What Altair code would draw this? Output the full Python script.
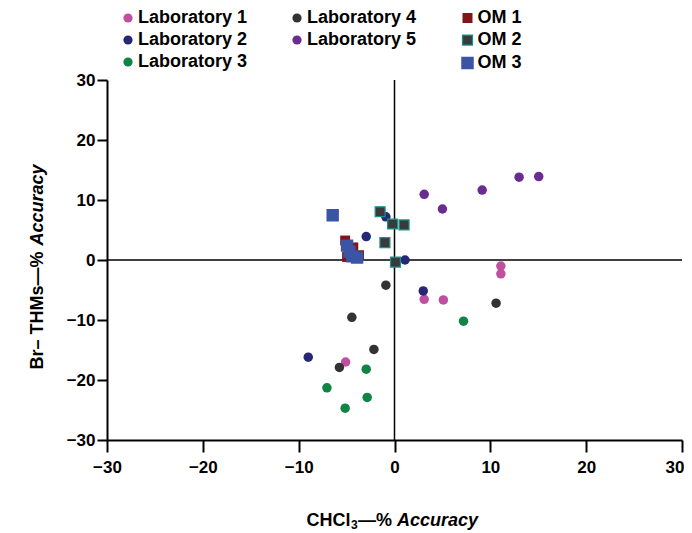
import altair as alt
import pandas as pd

# ---- data ----
lab1_x = [3.1, 5.1, 11.1, 11.1, -5.1]
lab1_y = [-6.55, -6.65, -2.3, -1.0, -17.0]
lab2_x = [3.0, -9.0, -2.95, -0.9, 1.1]
lab2_y = [-5.15, -16.2, 3.9, 7.2, 0.0]
lab3_x = [7.2, -2.95, -7.05, -2.85, -5.15]
lab3_y = [-10.2, -18.2, -21.3, -22.9, -24.7]
lab4_x = [-0.9, -4.45, -2.15, -5.75, 10.6]
lab4_y = [-4.2, -9.55, -14.9, -17.9, -7.2]
lab5_x = [3.1, 5.0, 9.15, 13.0, 15.05]
lab5_y = [10.95, 8.5, 11.65, 13.8, 13.9]
om1_x = [-5.15, -4.3, -3.7, -4.95]
om1_y = [3.25, 2.1, 0.8, 0.5]
om2_x = [-1.5, -0.2, 1.0, -1.0, 0.1]
om2_y = [8.05, 6.0, 5.85, 2.9, -0.35]
om3_x = [-6.45, -4.95, -4.7, -4.4, -3.9]
om3_y = [7.45, 2.4, 1.4, 0.6, 0.4]

ticks = [-30, -20, -10, 0, 10, 20, 30]

labsA = ["Laboratory 1", "Laboratory 2", "Laboratory 3"]
labsA_colors = ["#C04FA0", "#262775", "#0F8445"]
labsB = ["Laboratory 4", "Laboratory 5"]
labsB_colors = ["#333333", "#6B2C91"]
oms = ["OM 1", "OM 2", "OM 3"]
oms_fill = ["#7F1518", "#3A3A3A", "#3B55A5"]
oms_stroke = ["#7F1518", "#1A918C", "#3B55A5"]
oms_sw = [0, 2.5, 0]


def frame(names, xs, ys):
    rows = []
    for n, xv, yv in zip(names, xs, ys):
        for a, b in zip(xv, yv):
            rows.append({"series": n, "x": a, "y": b})
    return pd.DataFrame(rows)


dfA = frame(labsA, [lab1_x, lab2_x, lab3_x], [lab1_y, lab2_y, lab3_y])
dfB = frame(labsB, [lab4_x, lab5_x], [lab4_y, lab5_y])
dfO = frame(oms, [om1_x, om2_x, om3_x], [om1_y, om2_y, om3_y])

FONT = "Liberation Sans"
xscale = alt.Scale(domain=[-30, 30], nice=False, zero=False)
yscale = alt.Scale(domain=[-30, 30], nice=False, zero=False)
common_axis = dict(title=None, values=ticks, grid=False, tickWidth=2, domainWidth=2,
                   tickColor="black", domainColor="black", labelFont=FONT,
                   labelFontSize=17, labelFontWeight="bold", labelColor="black",
                   labelFlush=False)
# keep the last x label inside the page
xaxis = alt.Axis(tickSize=12, labelPadding=7,
                 labelAlign=alt.condition("datum.value == 30", alt.value("right"), alt.value("center")),
                 labelOffset=alt.condition("datum.value == 30", alt.value(2), alt.value(0)),
                 **common_axis)
yaxis = alt.Axis(tickSize=10, labelPadding=2, **common_axis)

X = alt.X("x:Q", scale=xscale, axis=xaxis)
Y = alt.Y("y:Q", scale=yscale, axis=yaxis)


def legend(lx, size):
    return alt.Legend(title=None, orient="none", legendX=lx, legendY=-71,
                      symbolSize=size, labelOffset=1, rowPadding=4, padding=0,
                      labelFont=FONT, labelFontSize=18, labelFontWeight="bold",
                      labelColor="black", labelLimit=0)


zero = pd.DataFrame({"x": [0], "y": [0]})
vrule = alt.Chart(zero).mark_rule(color="black", strokeWidth=1.5).encode(x=X)
hrule = alt.Chart(zero).mark_rule(color="black", strokeWidth=1.5).encode(y=Y)

ptsA = alt.Chart(dfA).mark_circle(size=90, opacity=1).encode(
    x=X, y=Y,
    color=alt.Color("series:N", scale=alt.Scale(domain=labsA, range=labsA_colors),
                    legend=legend(12, 85)))
ptsB = alt.Chart(dfB).mark_circle(size=90, opacity=1).encode(
    x=X, y=Y,
    color=alt.Color("series:N", scale=alt.Scale(domain=labsB, range=labsB_colors),
                    legend=legend(181, 85)))
legO = legend(351.5, 100)
ptsO = alt.Chart(dfO).mark_square(size=98, opacity=1, filled=True).encode(
    x=X, y=Y,
    color=alt.Color("series:N", scale=alt.Scale(domain=oms, range=oms_fill), legend=legO),
    stroke=alt.Stroke("series:N", scale=alt.Scale(domain=oms, range=oms_stroke), legend=legO),
    strokeWidth=alt.StrokeWidth("series:N", scale=alt.Scale(domain=oms, range=oms_sw), legend=legO),
)

# axis titles (mixed upright / italic parts)
def txt(s, xv, yv, align, size=18, style="normal", angle=0):
    kw = dict(font=FONT, fontSize=size, fontWeight="bold", fontStyle=style,
              align=align, baseline="middle", color="black")
    if angle:
        kw["angle"] = angle
    return alt.Chart(pd.DataFrame({"t": [s]})).mark_text(**kw).encode(
        text="t:N", x=alt.value(xv), y=alt.value(yv))

ytitle1 = txt("Br– THMs—%", -69, 171.5, "right", angle=270)
ytitle2 = txt("Accuracy", -69, 165.5, "left", style="italic", angle=270)
xtitle1 = txt("CHCl", 243.6, 441, "right")
xtitle2 = txt("3", 244, 445, "left", size=12)
xtitle3 = txt("—%", 251, 441, "left")
xtitle4 = txt("Accuracy", 290, 441, "left", style="italic")

chart = alt.layer(
    vrule, hrule, ptsA, ptsB, ptsO,
    ytitle1, ytitle2, xtitle1, xtitle2, xtitle3, xtitle4,
).resolve_scale(
    color="independent", stroke="independent", strokeWidth="independent"
).properties(
    width=575, height=360,
    autosize=alt.AutoSizeParams(type="none"),
    padding={"left": 99, "top": 72, "right": 2, "bottom": 92},
    background="white",
).configure_view(stroke=None)

chart.save("out.html", embed_options={"renderer": "svg", "actions": False})
